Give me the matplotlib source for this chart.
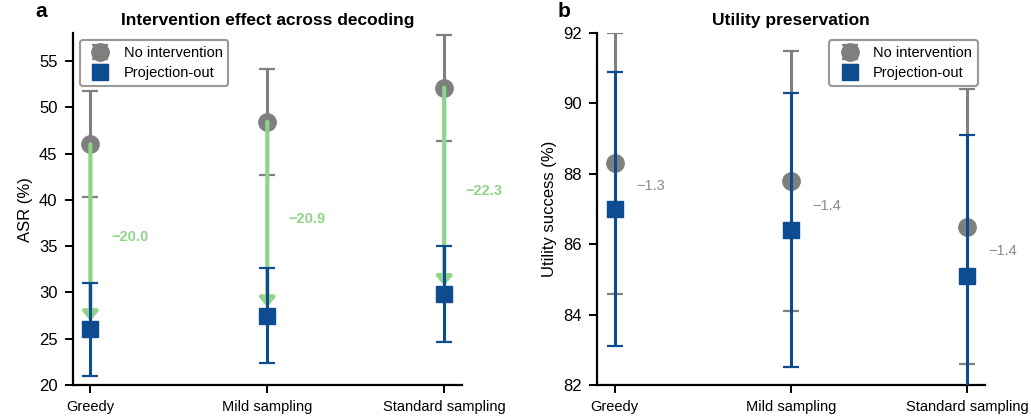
import numpy as np
import matplotlib
matplotlib.use("Agg")
from matplotlib import pyplot as plt

plt.rcParams["font.family"] = ["Liberation Sans", "DejaVu Sans"]

categories = ["Greedy", "Mild sampling", "Standard sampling"]

# panel a: attack success rate
asr_base = [46.0, 48.4, 52.1]
asr_base_err = [5.7, 5.7, 5.7]
asr_proj = [26.0, 27.5, 29.8]
asr_proj_err = [5.0, 5.1, 5.2]

# panel b: utility
util_base = [88.3, 87.8, 86.5]
util_base_err = [3.7, 3.7, 3.9]
util_proj = [87.0, 86.4, 85.1]
util_proj_err = [3.9, 3.9, 4.0]

GRAY = "#7f7f7f"
BLUE = "#0e4c92"
GREEN = "#8fd48a"
DELTA_GRAY = "#8c8c8c"


def style_ax(ax):
    for s in ["top", "right"]:
        ax.spines[s].set_visible(False)
    for s in ["left", "bottom"]:
        ax.spines[s].set_linewidth(1.6)
    ax.tick_params(axis="both", width=1.4, length=6, pad=5)
    ax.tick_params(axis="y", labelsize=12)
    ax.tick_params(axis="x", labelsize=10.5)


def draw_points(ax, base, base_err, proj, proj_err):
    x = np.arange(len(categories))
    ax.errorbar(x, base, yerr=base_err, fmt="o", color=GRAY, ms=12.5,
                elinewidth=2.2, capsize=6, capthick=1.6,
                label="No intervention", zorder=3)
    ax.errorbar(x, proj, yerr=proj_err, fmt="s", color=BLUE, ms=12,
                elinewidth=2.2, capsize=6, capthick=1.6,
                label="Projection-out", zorder=4)
    ax.set_xticks(x)
    ax.set_xticklabels(categories)
    ax.set_xlim(-0.1, 2.1)
    return x


def add_legend(ax, loc, anchor):
    leg = ax.legend(loc=loc, fontsize=10.5, frameon=True, fancybox=True,
                    borderpad=0.4, handletextpad=0.6, labelspacing=0.4,
                    bbox_to_anchor=anchor, framealpha=1)
    leg.get_frame().set_edgecolor("#999999")
    leg.get_frame().set_linewidth(1.5)


fig = plt.figure(figsize=(10.31, 4.19), dpi=100)
ax_a = fig.add_axes([0.0705, 0.081, 0.3775, 0.84])
ax_b = fig.add_axes([0.579, 0.081, 0.3765, 0.84])

# ---- panel a
x = draw_points(ax_a, asr_base, asr_base_err, asr_proj, asr_proj_err)
for i in range(len(x)):
    ax_a.annotate("", xy=(x[i], asr_proj[i]), xytext=(x[i], asr_base[i]),
                  arrowprops=dict(arrowstyle="-|>,head_width=0.45,head_length=0.55",
                                  color=GREEN, lw=3, shrinkA=0, shrinkB=6),
                  zorder=3.5)
    d = asr_proj[i] - asr_base[i]
    ax_a.text(x[i] + 0.12, (asr_base[i] + asr_proj[i]) / 2,
              f"\u2212{abs(d):.1f}", color=GREEN, fontsize=10.5,
              fontweight="bold", ha="left", va="center")
ax_a.set_ylim(20, 58)
ax_a.set_yticks([20, 25, 30, 35, 40, 45, 50, 55])
ax_a.set_ylabel("ASR (%)", fontsize=12)
ax_a.set_title("Intervention effect across decoding", fontsize=12.5,
               fontweight="bold", pad=6)
style_ax(ax_a)
add_legend(ax_a, "upper left", (0.0, 1.0))
fig.text(0.034, 0.995, "a", fontsize=15, fontweight="bold", va="top")

# ---- panel b
x = draw_points(ax_b, util_base, util_base_err, util_proj, util_proj_err)
for i in range(len(x)):
    d = util_proj[i] - util_base[i]
    ax_b.text(x[i] + 0.12, (util_base[i] + util_proj[i]) / 2,
              f"\u2212{abs(d):.1f}", color=DELTA_GRAY, fontsize=10.5,
              ha="left", va="center")
ax_b.set_ylim(82, 92)
ax_b.set_yticks([82, 84, 86, 88, 90, 92])
ax_b.set_ylabel("Utility success (%)", fontsize=12)
ax_b.set_title("Utility preservation", fontsize=12.5, fontweight="bold", pad=6)
style_ax(ax_b)
add_legend(ax_b, "upper right", (1.0, 1.0))
fig.text(0.541, 0.995, "b", fontsize=15, fontweight="bold", va="top")

fig.savefig("out.png", dpi=100)
